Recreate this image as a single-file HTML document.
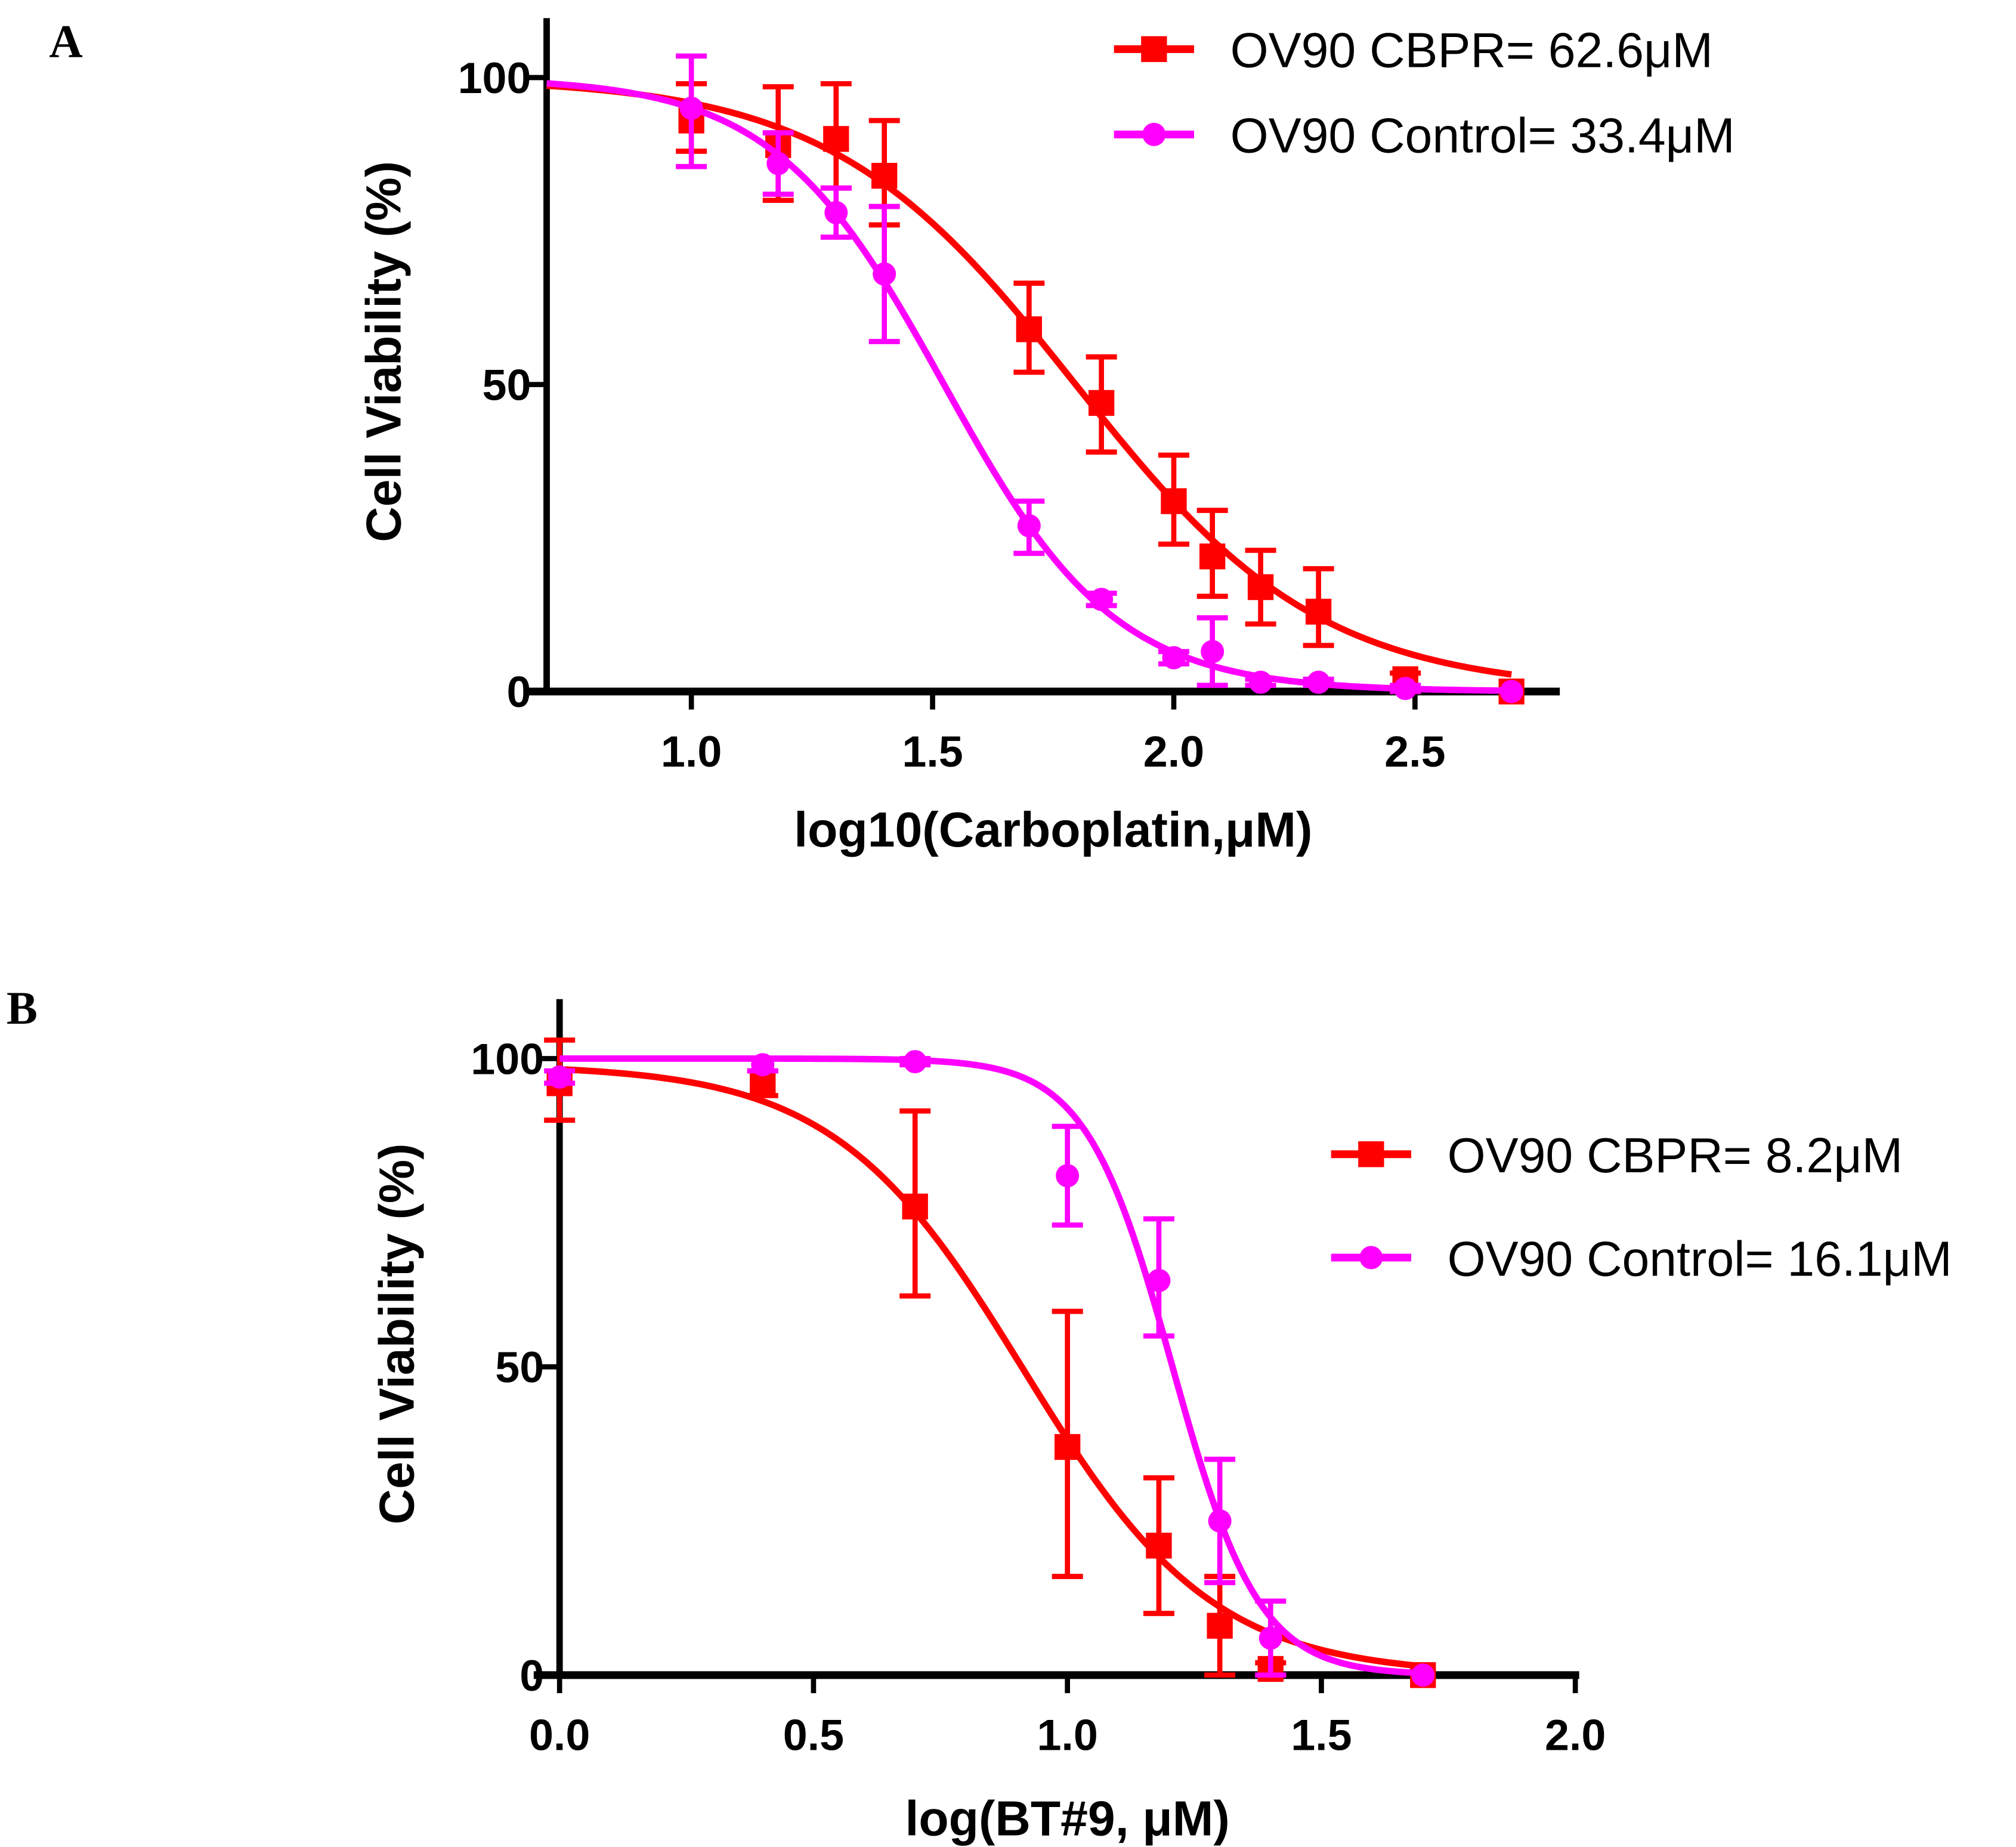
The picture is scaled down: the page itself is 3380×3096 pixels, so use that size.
<!DOCTYPE html>
<html><head><meta charset="utf-8"><style>
html,body{margin:0;padding:0;background:#fff}
svg{display:block}
text{font-family:"Liberation Sans",Arial,sans-serif}
</style></head><body>
<svg id="fig" width="3380" height="3096" viewBox="0 0 1560 1429" preserveAspectRatio="none" xmlns="http://www.w3.org/2000/svg">
<text x="38" y="44" style="font-family:'Liberation Serif',serif" font-weight="bold" font-size="36">A</text>
<text x="5" y="792" style="font-family:'Liberation Serif',serif" font-weight="bold" font-size="36">B</text>
<g id="pa"></g>
<g id="pb"></g>
</svg>
<script>
// Panel A data
const aX = [1.0, 1.18, 1.3, 1.4, 1.7, 1.85, 2.0, 2.08, 2.18, 2.3, 2.48, 2.7];
const aRed = [93, 89, 90, 84, 59, 47, 31, 22, 17, 13, 2, 0];
const aRedLo = [88, 80, 82, 76, 52, 39, 24, 15.5, 11, 7.5, 0, 0];
const aRedHi = [99, 98.5, 99, 93, 66.5, 54.5, 38.5, 29.5, 23, 20, 3, 0];
const aMag = [95, 86, 78, 68, 27, 15, 5.5, 6.5, 1.5, 1.5, 0.5, 0];
const aMagLo = [85.5, 81, 74, 57, 22.5, 14, 4.5, 1, 1, 1, 0, 0];
const aMagHi = [103.5, 91, 82, 79, 31, 16, 6.5, 12, 2, 2, 1, 0];
const aFitIC50 = [62.6, 33.4];
const aFitHill = [1.71, 2.45];
const aXTicks = [1.0, 1.5, 2.0, 2.5];
const aYTicks = [0, 50, 100];
const aLegend = ["OV90 CBPR= 62.6\u03bcM", "OV90 Control= 33.4\u03bcM"];
// Panel B data
const bX = [0, 0.4, 0.7, 1.0, 1.18, 1.3, 1.4, 1.7];
const bRed = [96, 96, 76, 37, 21, 8, 1, 0];
const bRedLo = [90, 94, 61.5, 16, 10, 0, 0, 0];
const bRedHi = [103, 98, 91.5, 59, 32, 16, 2, 0];
const bMag = [97, 99, 99.5, 81, 64, 25, 6, 0];
const bMagLo = [96, 98, 99, 73, 55, 15, 0, 0];
const bMagHi = [98, 100, 100, 89, 74, 35, 12, 0];
const bFitIC50 = [8.2, 16.1];
const bFitHill = [2.33, 5.1];
const bFitTop = [99, 100];
const bXTicks = [0.0, 0.5, 1.0, 1.5, 2.0];
const bYTicks = [0, 50, 100];
const bLegend = ["OV90 CBPR= 8.2\u03bcM", "OV90 Control= 16.1\u03bcM"];

const NS = "http://www.w3.org/2000/svg";
const RED = "#ff0000", MAG = "#ff00ff";
function mk(parent, tag, attrs, txt) {
  const e = document.createElementNS(NS, tag);
  for (const k in attrs) e.setAttribute(k, attrs[k]);
  if (txt !== undefined) e.textContent = txt;
  parent.appendChild(e);
  return e;
}
function panel(g, cfg) {
  const sx = v => cfg.x0 + (v - cfg.xmin) * cfg.kx;
  const sy = v => cfg.y0 - v * cfg.ky;
  let e = mk(g, "line", {x1: cfg.x0, y1: cfg.yTop, x2: cfg.x0, y2: cfg.y0 + 2, stroke: "#000", "stroke-width": 5});
  
  
  e = mk(g, "line", {x1: cfg.xAxisStart, y1: cfg.y0, x2: cfg.xAxisEnd, y2: cfg.y0, stroke: "#000", "stroke-width": 6});
  
  
  cfg.xTicks.forEach(t => {
    const x = sx(t);
    const tk = mk(g, "line", {x1: x, y1: cfg.y0, x2: x, y2: cfg.y0 + 14, stroke: "#000", "stroke-width": 4});
    
    
    const lb = mk(g, "text", {x: x, y: cfg.y0 + 58, "text-anchor": "middle", "font-size": 34, "font-weight": "bold"}, t.toFixed(1));
    
    
  });
  cfg.yTicks.forEach(t => {
    const y = sy(t);
    const tk = mk(g, "line", {x1: cfg.x0 - 14, y1: y, x2: cfg.x0, y2: y, stroke: "#000", "stroke-width": 4});
    
    
    const lb = mk(g, "text", {x: cfg.x0 - 12, y: y + 12, "text-anchor": "end", "font-size": 34, "font-weight": "bold"}, String(t));
    
    
  });
  e = mk(g, "text", {x: cfg.xtX, y: cfg.xtY, "text-anchor": "middle", "font-size": 38, "font-weight": "bold"}, cfg.xTitle);
  
  
  e = mk(g, "text", {x: 0, y: 0, "text-anchor": "middle", "font-size": 38, "font-weight": "bold", transform: "translate(" + cfg.ytX + "," + cfg.ytY + ") rotate(-90)"}, "Cell Viability (%)");
  
  
  cfg.series.forEach((s, i) => {
    const sg = mk(g, "g", {});
    
    
    let d = "";
    for (let k = 0; k <= 200; k++) {
      const xv = cfg.curveStart + (cfg.curveEnd - cfg.curveStart) * k / 200;
      const yv = s.top / (1 + Math.pow(10, s.hill * (xv - Math.log10(s.ic50))));
      d += (k ? "L" : "M") + sx(xv).toFixed(2) + "," + sy(yv).toFixed(2);
    }
    const c = mk(sg, "path", {d: d, fill: "none", stroke: s.color, "stroke-width": 5});
    
    
    cfg.xs.forEach((xv, j) => {
      const x = sx(xv);
      const lo = sy(s.lo[j]), hi = sy(s.hi[j]);
      if (s.hi[j] - s.lo[j] > 0.5) {
        const eb = mk(sg, "path", {d: "M" + x + "," + hi + "L" + x + "," + lo + "M" + (x - 12) + "," + hi + "L" + (x + 12) + "," + hi + "M" + (x - 12) + "," + lo + "L" + (x + 12) + "," + lo, stroke: s.color, "stroke-width": 4, fill: "none"});
        
        
      }
      const y = sy(s.v[j]);
      let m;
      if (s.shape === "square") m = mk(sg, "rect", {x: x - 10, y: y - 10, width: 20, height: 20, fill: s.color});
      else m = mk(sg, "circle", {cx: x, cy: y, r: 9, fill: s.color});
      
      
    });
    const lg = mk(g, "g", {});
    
    
    const ly = cfg.legY[i], lx = cfg.legX;
    mk(lg, "line", {x1: lx, y1: ly, x2: lx + 62, y2: ly, stroke: s.color, "stroke-width": 6});
    if (s.shape === "square") mk(lg, "rect", {x: lx + 21, y: ly - 10, width: 20, height: 20, fill: s.color});
    else mk(lg, "circle", {cx: lx + 31, cy: ly, r: 9, fill: s.color});
    mk(lg, "text", {x: lx + 90, y: ly + 14, "font-size": 38}, cfg.legend[i]);
  });
}
panel(document.getElementById("pa"), {
  x0: 423, y0: 535, yTop: 14, xmin: 0.7, kx: 373.3, ky: 4.75,
  xAxisStart: 405, xAxisEnd: 1207, curveStart: 0.7, curveEnd: 2.7,
  xTicks: aXTicks, yTicks: aYTicks, xs: aX,
  xTitle: "log10(Carboplatin,\u03bcM)", xtX: 815, xtY: 655, ytX: 310, ytY: 272,
  legX: 862, legY: [38, 104], legend: aLegend,
  series: [
    {name: "series-cbpr", color: RED, shape: "square", v: aRed, lo: aRedLo, hi: aRedHi, ic50: aFitIC50[0], hill: aFitHill[0], top: 100},
    {name: "series-control", color: MAG, shape: "circle", v: aMag, lo: aMagLo, hi: aMagHi, ic50: aFitIC50[1], hill: aFitHill[1], top: 100}
  ]
});
panel(document.getElementById("pb"), {
  x0: 433, y0: 1296, yTop: 773, xmin: 0, kx: 393, ky: 4.77,
  xAxisStart: 413, xAxisEnd: 1222, curveStart: 0, curveEnd: 1.7,
  xTicks: bXTicks, yTicks: bYTicks, xs: bX,
  xTitle: "log(BT#9, \u03bcM)", xtX: 826, xtY: 1420, ytX: 320, ytY: 1032,
  legX: 1030, legY: [893, 973], legend: bLegend,
  series: [
    {name: "series-cbpr", color: RED, shape: "square", v: bRed, lo: bRedLo, hi: bRedHi, ic50: bFitIC50[0], hill: bFitHill[0], top: bFitTop[0]},
    {name: "series-control", color: MAG, shape: "circle", v: bMag, lo: bMagLo, hi: bMagHi, ic50: bFitIC50[1], hill: bFitHill[1], top: bFitTop[1]}
  ]
});
</script>
</body></html>
